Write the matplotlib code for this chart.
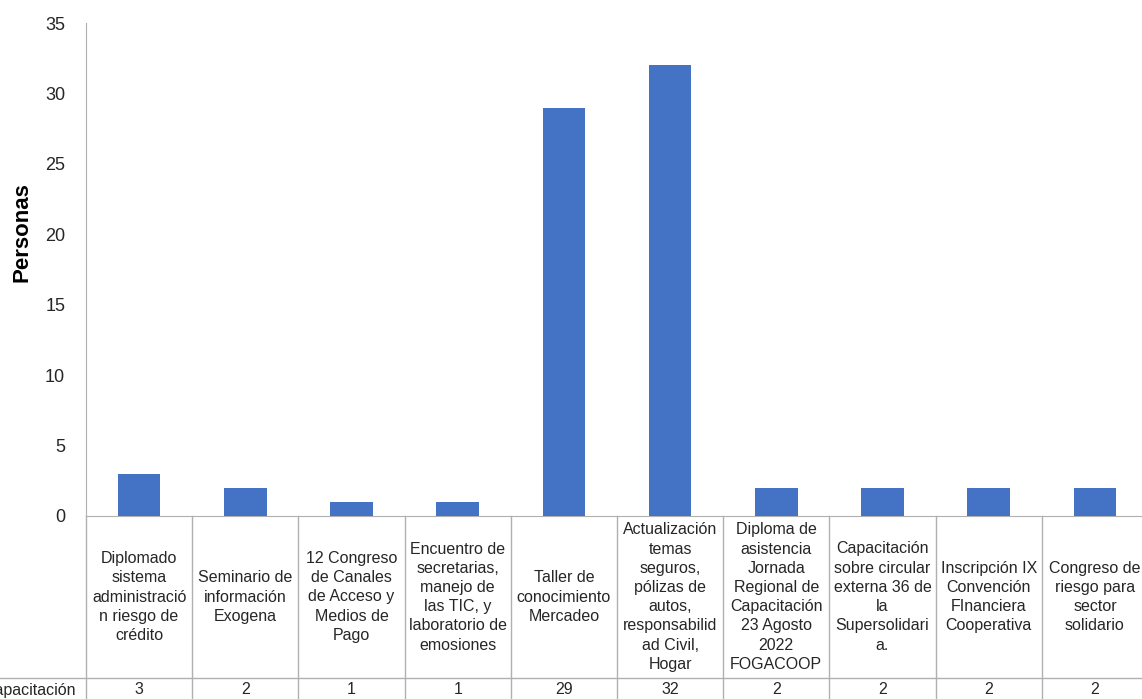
import matplotlib.pyplot as plt
from matplotlib.transforms import blended_transform_factory
import numpy as np

plt.rcParams['font.family'] = ['Liberation Sans', 'DejaVu Sans']

categorias = [
    "Diplomado\nsistema\nadministració\nn riesgo de\ncrédito",
    "Seminario de\ninformación\nExogena",
    "12 Congreso\nde Canales\nde Acceso y\nMedios de\nPago",
    "Encuentro de\nsecretarias,\nmanejo de\nlas TIC, y\nlaboratorio de\nemosiones",
    "Taller de\nconocimiento\nMercadeo",
    "Actualización\ntemas\nseguros,\npólizas de\nautos,\nresponsabilid\nad Civil,\nHogar",
    "Diploma de\nasistencia\nJornada\nRegional de\nCapacitación\n23 Agosto\n2022\nFOGACOOP",
    "Capacitación\nsobre circular\nexterna 36 de\nla\nSupersolidari\na.",
    "Inscripción IX\nConvención\nFInanciera\nCooperativa",
    "Congreso de\nriesgo para\nsector\nsolidario",
]
personas = [3, 2, 1, 1, 29, 32, 2, 2, 2, 2]
serie = "Capacitación"
yticks = [0, 5, 10, 15, 20, 25, 30, 35]

W, H = 1142, 699
fig = plt.figure(figsize=(W / 100, H / 100), dpi=100)
fig.patch.set_facecolor('white')

# axes: left 86px, right 1148px (beyond figure), top 23px, zero at 516px
x0, x1, ytop, ybot = 86, 1148, 23, 516
ax = fig.add_axes([x0 / W, (H - ybot) / H, (x1 - x0) / W, (ybot - ytop) / H])
ax.set_facecolor('none')

x = np.arange(len(personas))
ax.bar(x, personas, width=0.4, color='#4472C4', zorder=3)
ax.set_xlim(-0.5, len(personas) - 0.5)
ax.set_ylim(0, 35)
ax.set_yticks(yticks)
ax.tick_params(axis='y', length=0, pad=15, labelsize=13, labelcolor='#262626')
ax.set_xticks([])
for s in ['top', 'right']:
    ax.spines[s].set_visible(False)
ax.spines['left'].set_color('#b0b0b0')
ax.spines['bottom'].set_color('#b0b0b0')

fig.text(22 / W, 1 - 232 / H, "Personas", rotation=90, fontsize=16,
         fontweight='bold', ha='center', va='center', color='black')

# data table under the axis
axh = ybot - ytop
def yf(py):
    return (ybot - py) / axh

trans = blended_transform_factory(ax.transData, ax.transAxes)
line_kw = dict(color='#b0b0b0', lw=1, clip_on=False)
for i in range(len(personas) + 1):
    ax.plot([i - 0.5, i - 0.5], [0, yf(H + 5)], transform=trans, **line_kw)
ax.plot([-0.5 - x0 / ((x1 - x0) / len(personas)), len(personas) - 0.5],
        [yf(678), yf(678)], transform=trans, **line_kw)

for i, (cat, v) in enumerate(zip(categorias, personas)):
    ax.text(i, yf(597), cat, transform=trans, ha='center', va='center',
            fontsize=11.5, linespacing=1.35, color='#262626', clip_on=False)
    ax.text(i, yf(690), str(v), transform=trans, ha='center', va='center',
            fontsize=11.5, color='#262626', clip_on=False)

fig.text(76 / W, 1 - 690 / H, serie, ha='right', va='center', fontsize=11.5,
         color='#262626')

fig.savefig('out.png', dpi=100)
